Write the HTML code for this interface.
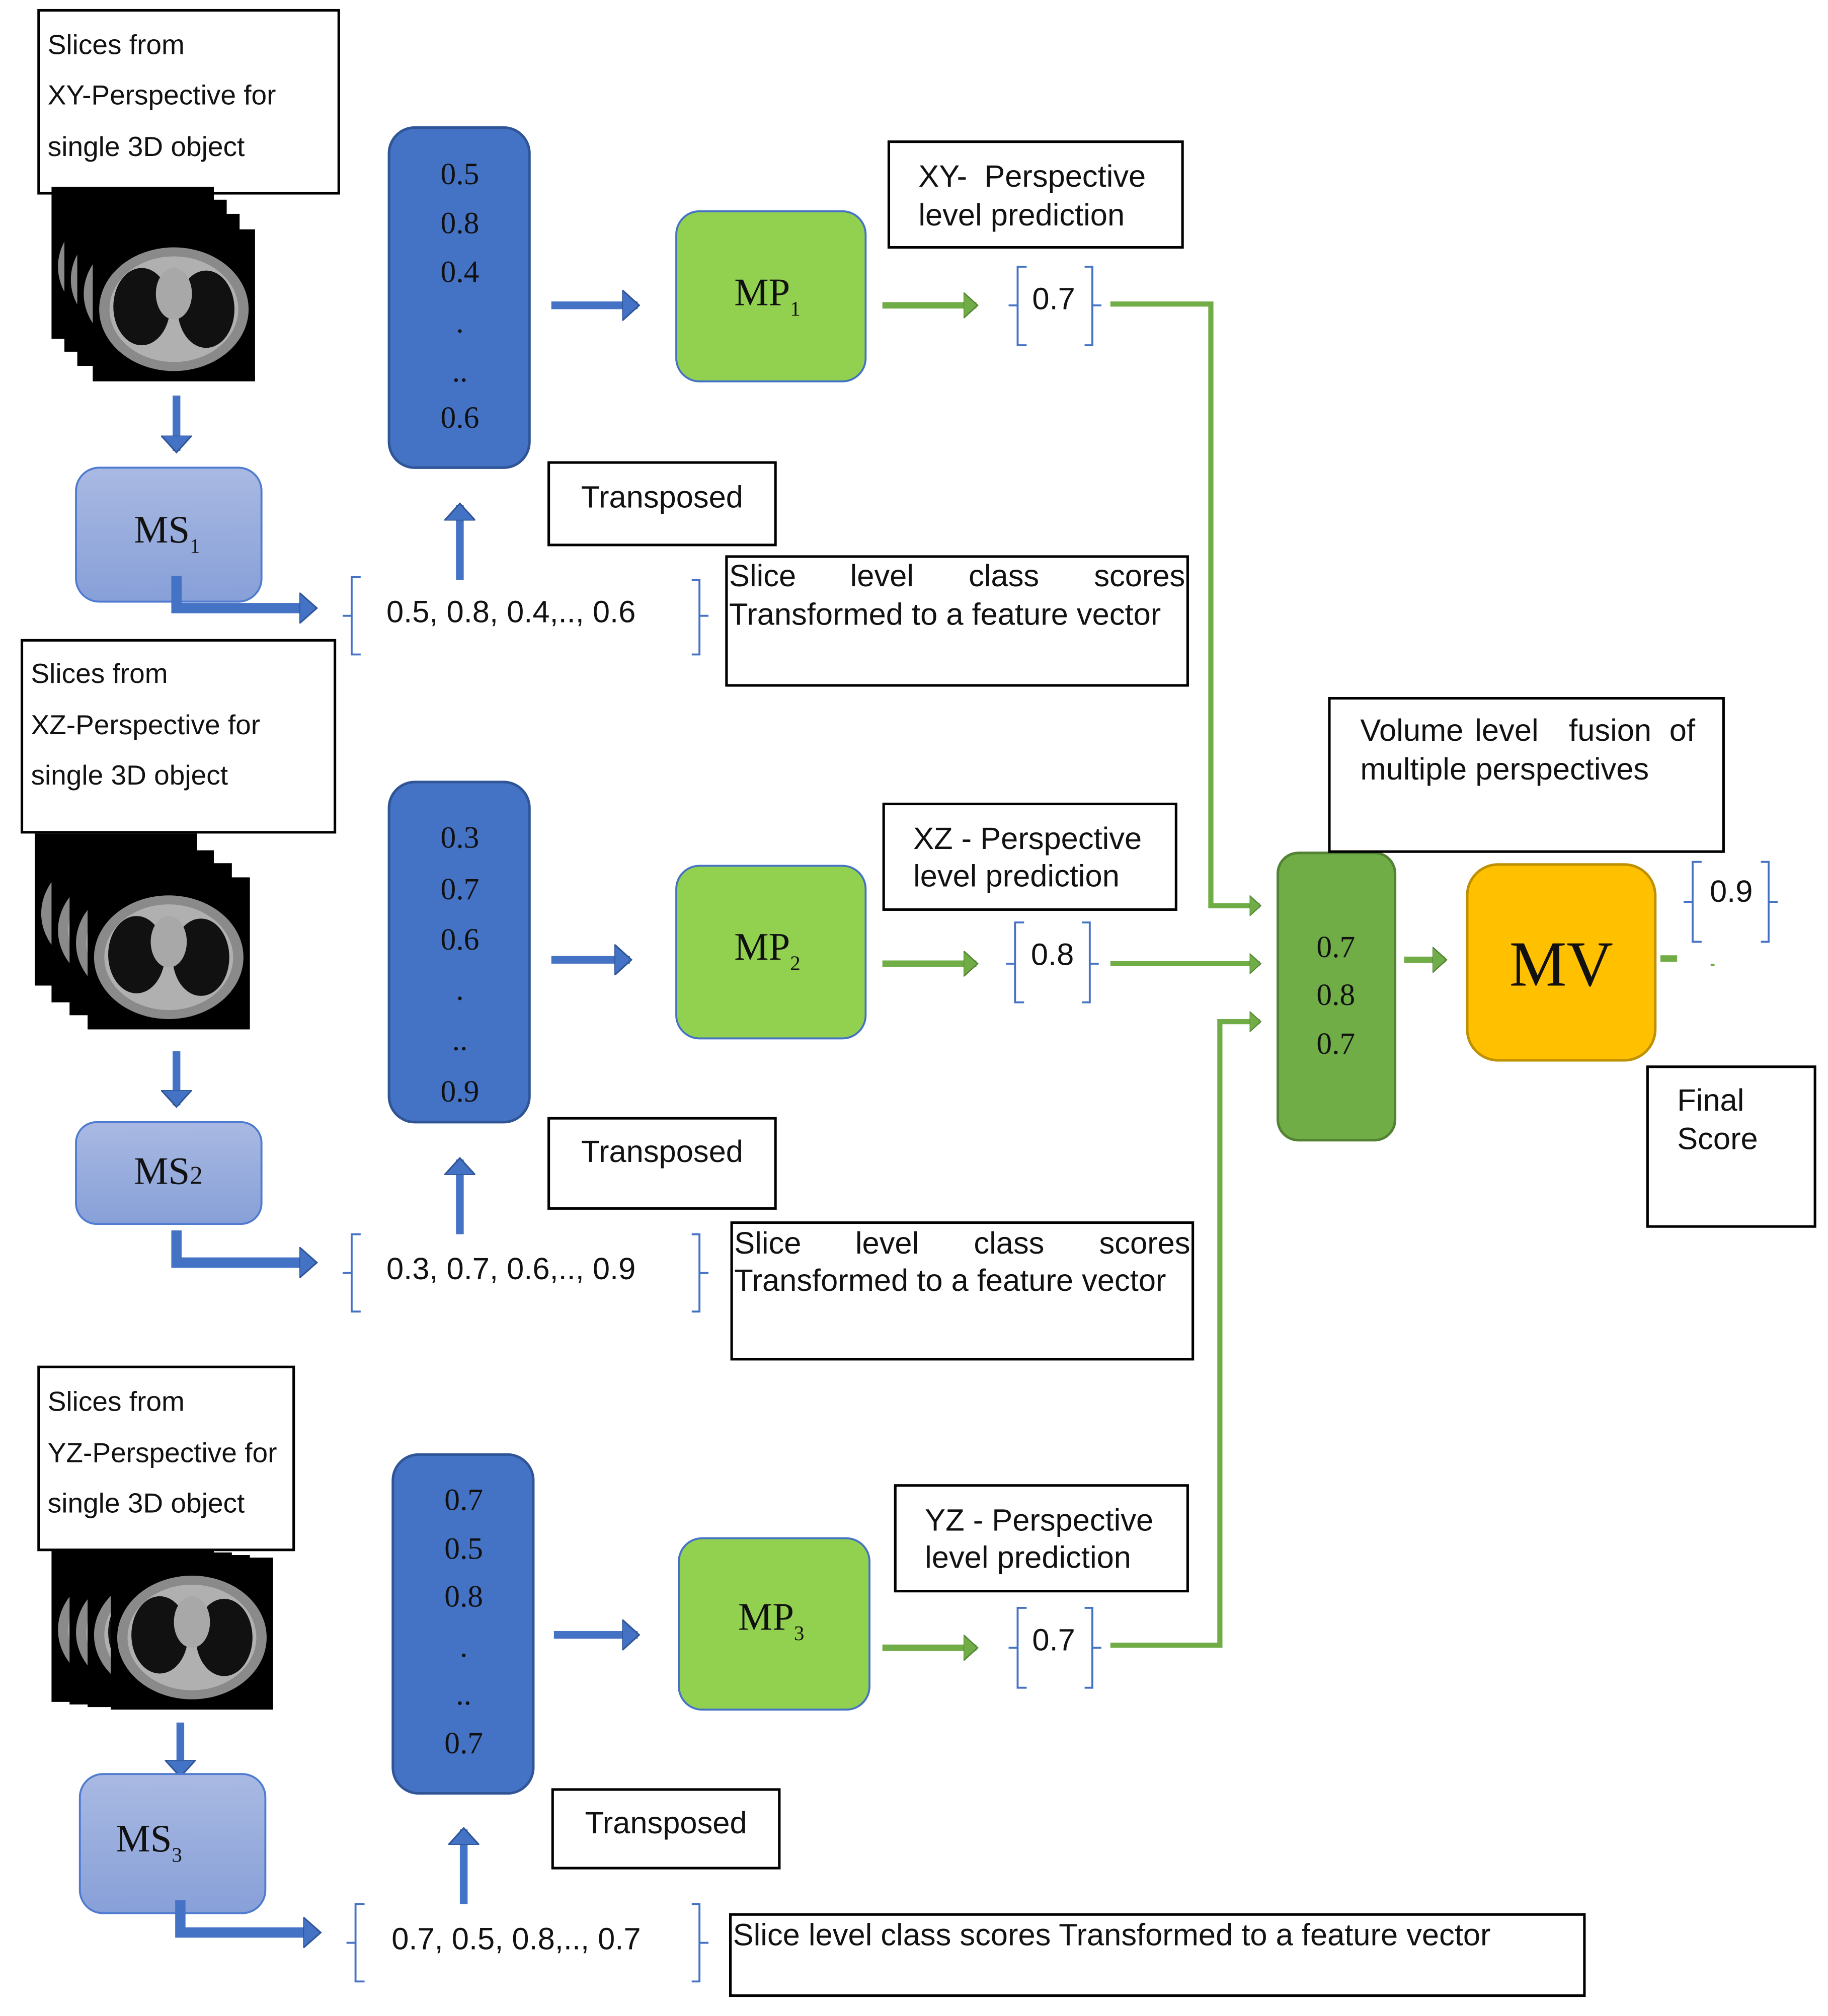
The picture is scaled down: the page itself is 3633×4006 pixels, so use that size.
<!DOCTYPE html>
<html><head><meta charset="utf-8"><style>
html,body{margin:0;padding:0;background:#fff}
svg{display:block}
.s{font-family:"Liberation Sans",sans-serif;fill:#111}
.r{font-family:"Liberation Serif",serif;fill:#111}
</style></head><body>
<svg width="3633" height="4006" viewBox="0 0 1419.1 1564.8" preserveAspectRatio="none" xmlns="http://www.w3.org/2000/svg">
<defs>
<linearGradient id="msg" x1="0" y1="0" x2="0" y2="1"><stop offset="0" stop-color="#a9b9e2"/><stop offset="1" stop-color="#87a0d8"/></linearGradient>
<marker id="ab" markerWidth="4" markerHeight="4" refX="2" refY="2" orient="auto" markerUnits="strokeWidth"><path d="M0,0 L2.2,2 L0,4 Z" fill="#4472c4" stroke="#2f5597" stroke-width="0.2"/></marker>
<marker id="ab2" markerWidth="3" markerHeight="3" refX="1.2" refY="1.5" orient="auto" markerUnits="strokeWidth"><path d="M0,0 L1.7,1.5 L0,3 Z" fill="#4472c4" stroke="#2f5597" stroke-width="0.15"/></marker>
<marker id="ag" markerWidth="4" markerHeight="4" refX="2" refY="2" orient="auto" markerUnits="strokeWidth"><path d="M0,0 L2.2,2 L0,4 Z" fill="#70ad47" stroke="#548235" stroke-width="0.2"/></marker>
<g id="ct">
<rect x="0" y="0" width="126" height="118" fill="#000"/>
<ellipse cx="63" cy="62" rx="58" ry="48" fill="#8a8a8a"/>
<ellipse cx="63" cy="62" rx="50" ry="41" fill="#b0b0b0"/>
<ellipse cx="38" cy="60" rx="22" ry="30" fill="#111"/>
<ellipse cx="88" cy="62" rx="22" ry="30" fill="#111"/>
<ellipse cx="63" cy="50" rx="14" ry="20" fill="#a8a8a8"/>
</g>
</defs>
<rect width="1419.1" height="1564.8" fill="#fff"/>

<!-- ===== Group 1 ===== -->
<rect x="30" y="8" width="233" height="142" fill="#fff" stroke="#000" stroke-width="2"/>
<text class="s" font-size="21.5" x="37" y="42">Slices from</text>
<text class="s" font-size="21.5" x="37" y="81">XY-Perspective for</text>
<text class="s" font-size="21.5" x="37" y="121">single 3D object</text>
<use href="#ct" x="40" y="145"/><use href="#ct" x="50" y="155"/><use href="#ct" x="60" y="166"/><use href="#ct" x="72" y="178"/>
<line x1="137" y1="307" x2="137" y2="350" stroke="#4472c4" stroke-width="6" marker-end="url(#ab)"/>
<rect x="59" y="363" width="144" height="104" rx="18" fill="url(#msg)" stroke="#4f7bd0" stroke-width="1.5"/>
<text class="r" font-size="30" x="104" y="421">MS<tspan font-size="16" dy="8">1</tspan></text>
<path d="M137,447 V472 H242" fill="none" stroke="#4472c4" stroke-width="8" marker-end="url(#ab2)"/>
<path d="M280,448 H273 V508 H280 M273,478 H266" fill="none" stroke="#4472c4" stroke-width="1.5"/>
<path d="M537,450 H543 V508 H537 M543,478 H550" fill="none" stroke="#4472c4" stroke-width="1.5"/>
<text class="s" font-size="24" x="300" y="483">0.5, 0.8, 0.4,.., 0.6</text>
<line x1="357" y1="450" x2="357" y2="392" stroke="#4472c4" stroke-width="6" marker-end="url(#ab)"/>
<rect x="302" y="99" width="109" height="264" rx="20" fill="#4472c4" stroke="#2f5597" stroke-width="2"/>
<g class="r" font-size="24" text-anchor="middle">
<text x="357" y="143">0.5</text><text x="357" y="181">0.8</text><text x="357" y="219">0.4</text><text x="357" y="258">.</text><text x="357" y="296">..</text><text x="357" y="332">0.6</text>
</g>
<line x1="428" y1="237" x2="495" y2="237" stroke="#4472c4" stroke-width="6" marker-end="url(#ab)"/>
<rect x="525" y="164" width="147" height="132" rx="18" fill="#92d050" stroke="#4472c4" stroke-width="1.5"/>
<text class="r" font-size="30" x="570" y="237">MP<tspan font-size="16" dy="8">1</tspan></text>
<line x1="685" y1="237" x2="758" y2="237" stroke="#70ad47" stroke-width="5" marker-end="url(#ag)"/>
<path d="M797,207 H790 V268 H797 M790,237 H783" fill="none" stroke="#4472c4" stroke-width="1.5"/>
<path d="M842,207 H848 V268 H842 M848,237 H855" fill="none" stroke="#4472c4" stroke-width="1.5"/>
<text class="s" font-size="24" x="818" y="240" text-anchor="middle">0.7</text>
<path d="M862,236 H940 V703 H978" fill="none" stroke="#70ad47" stroke-width="4" marker-end="url(#ag)"/>
<rect x="690" y="110" width="228" height="82" fill="#fff" stroke="#000" stroke-width="2"/>
<text class="s" font-size="24" x="713" y="145" xml:space="preserve">XY-  Perspective</text>
<text class="s" font-size="24" x="713" y="175">level prediction</text>
<rect x="426" y="359" width="176" height="64" fill="#fff" stroke="#000" stroke-width="2"/>
<text class="s" font-size="24" x="514" y="394" text-anchor="middle">Transposed</text>
<rect x="564" y="432" width="358" height="100" fill="#fff" stroke="#000" stroke-width="2"/>
<g class="s" font-size="24"><text x="566" y="455">Slice</text><text x="660" y="455">level</text><text x="752" y="455">class</text><text x="920" y="455" text-anchor="end">scores</text></g>
<text class="s" font-size="24" x="566" y="485">Transformed to a feature vector</text>

<!-- ===== Group 2 ===== -->
<rect x="17" y="497" width="243" height="149" fill="#fff" stroke="#000" stroke-width="2"/>
<text class="s" font-size="21.5" x="24" y="530">Slices from</text>
<text class="s" font-size="21.5" x="24" y="570">XZ-Perspective for</text>
<text class="s" font-size="21.5" x="24" y="609">single 3D object</text>
<use href="#ct" x="27" y="647"/><use href="#ct" x="40" y="660"/><use href="#ct" x="54" y="670"/><use href="#ct" x="68" y="681"/>
<line x1="137" y1="816" x2="137" y2="858" stroke="#4472c4" stroke-width="6" marker-end="url(#ab)"/>
<rect x="59" y="871" width="144" height="79" rx="16" fill="url(#msg)" stroke="#4f7bd0" stroke-width="1.5"/>
<text class="r" font-size="30" x="104" y="919">MS<tspan font-size="20">2</tspan></text>
<path d="M137,955 V980 H242" fill="none" stroke="#4472c4" stroke-width="8" marker-end="url(#ab2)"/>
<path d="M280,958 H273 V1018 H280 M273,988 H266" fill="none" stroke="#4472c4" stroke-width="1.5"/>
<path d="M537,958 H543 V1018 H537 M543,988 H550" fill="none" stroke="#4472c4" stroke-width="1.5"/>
<text class="s" font-size="24" x="300" y="993">0.3, 0.7, 0.6,.., 0.9</text>
<line x1="357" y1="958" x2="357" y2="900" stroke="#4472c4" stroke-width="6" marker-end="url(#ab)"/>
<rect x="302" y="607" width="109" height="264" rx="20" fill="#4472c4" stroke="#2f5597" stroke-width="2"/>
<g class="r" font-size="24" text-anchor="middle">
<text x="357" y="658">0.3</text><text x="357" y="698">0.7</text><text x="357" y="737">0.6</text><text x="357" y="776">.</text><text x="357" y="815">..</text><text x="357" y="855">0.9</text>
</g>
<line x1="428" y1="745" x2="489" y2="745" stroke="#4472c4" stroke-width="6" marker-end="url(#ab)"/>
<rect x="525" y="672" width="147" height="134" rx="18" fill="#92d050" stroke="#4472c4" stroke-width="1.5"/>
<text class="r" font-size="30" x="570" y="745">MP<tspan font-size="16" dy="8">2</tspan></text>
<line x1="685" y1="748" x2="758" y2="748" stroke="#70ad47" stroke-width="5" marker-end="url(#ag)"/>
<path d="M795,716 H788 V778 H795 M788,748 H781" fill="none" stroke="#4472c4" stroke-width="1.5"/>
<path d="M840,716 H846 V778 H840 M846,748 H853" fill="none" stroke="#4472c4" stroke-width="1.5"/>
<text class="s" font-size="24" x="817" y="749" text-anchor="middle">0.8</text>
<line x1="862" y1="748" x2="978" y2="748" stroke="#70ad47" stroke-width="4" marker-end="url(#ag)"/>
<rect x="686" y="624" width="227" height="82" fill="#fff" stroke="#000" stroke-width="2"/>
<text class="s" font-size="24" x="709" y="659">XZ - Perspective</text>
<text class="s" font-size="24" x="709" y="688">level prediction</text>
<rect x="426" y="868" width="176" height="70" fill="#fff" stroke="#000" stroke-width="2"/>
<text class="s" font-size="24" x="514" y="902" text-anchor="middle">Transposed</text>
<rect x="568" y="949" width="358" height="106" fill="#fff" stroke="#000" stroke-width="2"/>
<g class="s" font-size="24"><text x="570" y="973">Slice</text><text x="664" y="973">level</text><text x="756" y="973">class</text><text x="924" y="973" text-anchor="end">scores</text></g>
<text class="s" font-size="24" x="570" y="1002">Transformed to a feature vector</text>

<!-- ===== Group 3 ===== -->
<rect x="30" y="1061" width="198" height="142" fill="#fff" stroke="#000" stroke-width="2"/>
<text class="s" font-size="21.5" x="37" y="1095">Slices from</text>
<text class="s" font-size="21.5" x="37" y="1135">YZ-Perspective for</text>
<text class="s" font-size="21.5" x="37" y="1174">single 3D object</text>
<use href="#ct" x="40" y="1203"/><use href="#ct" x="54" y="1205"/><use href="#ct" x="68" y="1207"/><use href="#ct" x="86" y="1209"/>
<line x1="140" y1="1337" x2="140" y2="1378" stroke="#4472c4" stroke-width="6" marker-end="url(#ab)"/>
<rect x="62" y="1377" width="144" height="108" rx="18" fill="url(#msg)" stroke="#4f7bd0" stroke-width="1.5"/>
<text class="r" font-size="30" x="90" y="1437">MS<tspan font-size="16" dy="8">3</tspan></text>
<path d="M140,1475 V1500 H245" fill="none" stroke="#4472c4" stroke-width="8" marker-end="url(#ab2)"/>
<path d="M283,1478 H276 V1538 H283 M276,1508 H269" fill="none" stroke="#4472c4" stroke-width="1.5"/>
<path d="M537,1478 H543 V1538 H537 M543,1508 H550" fill="none" stroke="#4472c4" stroke-width="1.5"/>
<text class="s" font-size="24" x="304" y="1513">0.7, 0.5, 0.8,.., 0.7</text>
<line x1="360" y1="1478" x2="360" y2="1420" stroke="#4472c4" stroke-width="6" marker-end="url(#ab)"/>
<rect x="305" y="1129" width="109" height="263" rx="20" fill="#4472c4" stroke="#2f5597" stroke-width="2"/>
<g class="r" font-size="24" text-anchor="middle">
<text x="360" y="1172">0.7</text><text x="360" y="1210">0.5</text><text x="360" y="1247">0.8</text><text x="360" y="1286">.</text><text x="360" y="1323">..</text><text x="360" y="1361">0.7</text>
</g>
<line x1="430" y1="1269" x2="495" y2="1269" stroke="#4472c4" stroke-width="6" marker-end="url(#ab)"/>
<rect x="527" y="1194" width="148" height="133" rx="18" fill="#92d050" stroke="#4472c4" stroke-width="1.5"/>
<text class="r" font-size="30" x="573" y="1265">MP<tspan font-size="16" dy="8">3</tspan></text>
<line x1="685" y1="1279" x2="758" y2="1279" stroke="#70ad47" stroke-width="5" marker-end="url(#ag)"/>
<path d="M797,1248 H790 V1310 H797 M790,1279 H783" fill="none" stroke="#4472c4" stroke-width="1.5"/>
<path d="M842,1248 H848 V1310 H842 M848,1279 H855" fill="none" stroke="#4472c4" stroke-width="1.5"/>
<text class="s" font-size="24" x="818" y="1281" text-anchor="middle">0.7</text>
<path d="M862,1277 H947 V793 H978" fill="none" stroke="#70ad47" stroke-width="4" marker-end="url(#ag)"/>
<rect x="695" y="1153" width="227" height="82" fill="#fff" stroke="#000" stroke-width="2"/>
<text class="s" font-size="24" x="718" y="1188">YZ - Perspective</text>
<text class="s" font-size="24" x="718" y="1217">level prediction</text>
<rect x="429" y="1389" width="176" height="61" fill="#fff" stroke="#000" stroke-width="2"/>
<text class="s" font-size="24" x="517" y="1423" text-anchor="middle">Transposed</text>
<rect x="567" y="1486" width="663" height="63" fill="#fff" stroke="#000" stroke-width="2"/>
<text class="s" font-size="24" x="569" y="1510">Slice level class scores Transformed to a feature vector</text>

<!-- ===== Fusion ===== -->
<rect x="992" y="662" width="91" height="223" rx="16" fill="#70ad47" stroke="#548235" stroke-width="2"/>
<g class="r" font-size="24" text-anchor="middle">
<text x="1037" y="743">0.7</text><text x="1037" y="780">0.8</text><text x="1037" y="818">0.7</text>
</g>
<rect x="1032" y="542" width="306" height="119" fill="#fff" stroke="#000" stroke-width="2"/>
<g class="s" font-size="24"><text x="1056" y="575">Volume</text><text x="1145" y="575">level</text><text x="1218" y="575">fusion</text><text x="1316" y="575" text-anchor="end">of</text></g>
<text class="s" font-size="24" x="1056" y="605">multiple perspectives</text>
<line x1="1090" y1="745" x2="1122" y2="745" stroke="#70ad47" stroke-width="5" marker-end="url(#ag)"/>
<rect x="1139" y="671" width="146" height="152" rx="24" fill="#ffc000" stroke="#bf9000" stroke-width="2"/>
<text class="r" font-size="50" x="1212" y="765" text-anchor="middle">MV</text>
<line x1="1289" y1="744" x2="1302" y2="744" stroke="#70ad47" stroke-width="5"/>
<rect x="1328" y="748" width="3" height="2" fill="#70ad47"/>
<path d="M1321,669 H1314 V731 H1321 M1314,700 H1307" fill="none" stroke="#4472c4" stroke-width="1.5"/>
<path d="M1367,669 H1373 V731 H1367 M1373,700 H1380" fill="none" stroke="#4472c4" stroke-width="1.5"/>
<text class="s" font-size="24" x="1344" y="700" text-anchor="middle">0.9</text>
<rect x="1279" y="828" width="130" height="124" fill="#fff" stroke="#000" stroke-width="2"/>
<text class="s" font-size="24" x="1302" y="862">Final</text>
<text class="s" font-size="24" x="1302" y="892">Score</text>
</svg>
</body></html>
